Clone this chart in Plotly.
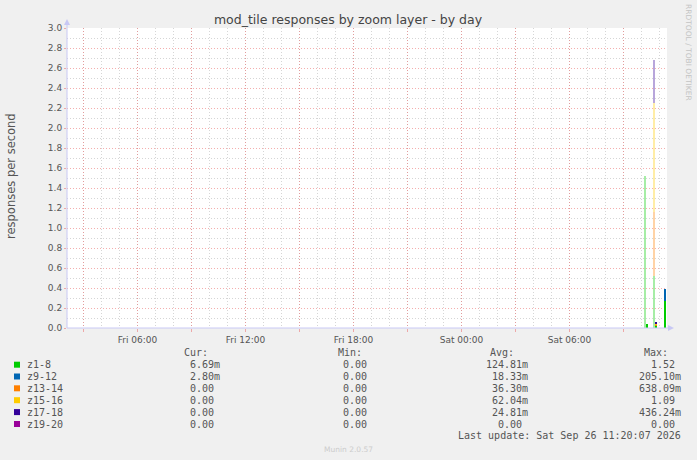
import plotly.graph_objects as go

# ---------------- data ----------------
sample_times = ["2026-09-26 10:12:30", "2026-09-26 10:17:30", "2026-09-26 10:42:30",
                "2026-09-26 10:47:30", "2026-09-26 11:17:30"]
z1_8 = [1.52, 0.04, 0.52, 0.02, 0.27]
z9_12 = [0.0, 0.0, 0.0, 0.0, 0.12]
z13_14 = [0.0, 0.0, 0.638, 0.01, 0.0]
z15_16 = [0.0, 0.0, 1.09, 0.01, 0.0]
z17_18 = [0.0, 0.0, 0.436, 0.02, 0.0]
z19_20 = [0.0, 0.0, 0.0, 0.0, 0.0]

series_names = ["z1-8", "z9-12", "z13-14", "z15-16", "z17-18", "z19-20"]
series_values = [z1_8, z9_12, z13_14, z15_16, z17_18, z19_20]
series_colors = ["#00CC00", "#0066B3", "#FF8000", "#FFCC00", "#330099", "#990099"]

cur_vals = ["6.69m", "2.80m", "0.00", "0.00", "0.00", "0.00"]
min_vals = ["0.00", "0.00", "0.00", "0.00", "0.00", "0.00"]
avg_vals = ["124.81m", "18.33m", "36.30m", "62.04m", "24.81m", "0.00"]
max_vals = ["1.52", "205.10m", "638.09m", "1.09", "436.24m", "0.00"]

tick_times = ["2026-09-25 03:00", "2026-09-25 06:00", "2026-09-25 09:00", "2026-09-25 12:00",
              "2026-09-25 15:00", "2026-09-25 18:00", "2026-09-25 21:00", "2026-09-26 00:00",
              "2026-09-26 03:00", "2026-09-26 06:00", "2026-09-26 09:00"]
tick_labels = ["", "Fri 06:00", "", "Fri 12:00", "", "Fri 18:00", "", "Sat 00:00", "", "Sat 06:00", ""]

x_range = ["2026-09-25 02:05", "2026-09-26 11:25"]
title = "mod_tile responses by zoom layer - by day"
y_title = "responses per second"
last_update = "Last update: Sat Sep 26 11:20:07 2026"

# ---------------- geometry helpers ----------------
W, H = 697, 460
L, R, T, B = 67, 667, 28, 328


def px(x):
    return (x - L) / (R - L)


def py(y):
    return (B - y) / (B - T)


MAJOR = "rgba(235,110,110,0.55)"
MINOR = "#d6d6d6"
AXIS = "#c8c8f4"
TXT = "#555555"
SANS = "DejaVu Sans"
MONO = "DejaVu Sans Mono"
DOTS = "1px,2px"

fig = go.Figure()
bar_opacity = [0.35, 1, 0.35, 1, 1]
for name, vals, col in zip(series_names, series_values, series_colors):
    fig.add_trace(go.Bar(x=sample_times, y=vals, name=name, width=300000,
                         marker=dict(color=col, line=dict(width=0), opacity=bar_opacity),
                         showlegend=False, hoverinfo="skip"))

annotations = []
shapes = []

# y axis title
annotations.append(dict(x=px(11), y=py(176), xref="paper", yref="paper", text=y_title,
                        textangle=-90, showarrow=False, font=dict(family=SANS, size=11.5, color=TXT),
                        xanchor="center", yanchor="middle"))
# right side vertical credit
annotations.append(dict(x=px(688), y=py(52), xref="paper", yref="paper", text="RRDTOOL / TOBI OETIKER",
                        textangle=90, showarrow=False, font=dict(family=SANS, size=7.5, color="#c4c4c4"),
                        xanchor="center", yanchor="middle"))
# footer
annotations.append(dict(x=px(348), y=py(449), xref="paper", yref="paper", text="Munin 2.0.57",
                        showarrow=False, font=dict(family=SANS, size=7.5, color="#cccccc"),
                        xanchor="center", yanchor="middle"))

# legend table
row_y = [364.7, 376.5, 388.3, 400.2, 412.1, 424.0]
head_y = 352.7
for htxt, hx in [("Cur:", 210), ("Min:", 364), ("Avg:", 516), ("Max:", 670)]:
    annotations.append(dict(x=px(hx), y=py(head_y), xref="paper", yref="paper", text=htxt,
                            showarrow=False, font=dict(family=MONO, size=10, color=TXT),
                            xanchor="right", yanchor="middle"))


def pad(v):
    return v if v.endswith("m") else v + "\u00a0"


for i, name in enumerate(series_names):
    yy = row_y[i]
    shapes.append(dict(type="rect", xref="paper", yref="paper",
                       x0=px(14), x1=px(20), y0=py(yy + 3), y1=py(yy - 3),
                       fillcolor=series_colors[i], line=dict(width=0)))
    annotations.append(dict(x=px(25), y=py(yy), xref="paper", yref="paper", text=name,
                            showarrow=False, font=dict(family=MONO, size=10, color=TXT),
                            xanchor="left", yanchor="middle"))
    for vals, rx in [(cur_vals, 222), (min_vals, 375), (avg_vals, 530), (max_vals, 683)]:
        annotations.append(dict(x=px(rx), y=py(yy), xref="paper", yref="paper", text=pad(vals[i]),
                                showarrow=False, font=dict(family=MONO, size=10, color=TXT),
                                xanchor="right", yanchor="middle"))
annotations.append(dict(x=px(683), y=py(436), xref="paper", yref="paper", text=last_update,
                        showarrow=False, font=dict(family=MONO, size=10, color=TXT),
                        xanchor="right", yanchor="middle"))

# axis lines with arrows
shapes.append(dict(type="line", xref="paper", yref="paper", x0=px(67), x1=px(67), y0=py(328), y1=py(23),
                   line=dict(color=AXIS, width=1)))
shapes.append(dict(type="line", xref="paper", yref="paper", x0=px(67), x1=px(670), y0=py(328), y1=py(328),
                   line=dict(color=AXIS, width=1)))
shapes.append(dict(type="path", xref="paper", yref="paper",
                   path=f"M {px(67)} {py(19)} L {px(64)} {py(25)} L {px(70)} {py(25)} Z",
                   fillcolor=AXIS, line=dict(width=0)))
shapes.append(dict(type="path", xref="paper", yref="paper",
                   path=f"M {px(674)} {py(328)} L {px(668)} {py(325)} L {px(668)} {py(331)} Z",
                   fillcolor=AXIS, line=dict(width=0)))

fig.update_layout(
    width=W, height=H, autosize=False,
    margin=dict(l=L, r=W - R, t=T, b=H - B, pad=0),
    paper_bgcolor="#F0F0F0", plot_bgcolor="#FFFFFF",
    barmode="stack", bargap=0,
    title=dict(text=title, x=348 / W, y=1 - 20 / H, xref="container", yref="container",
               xanchor="center", yanchor="middle", font=dict(family=SANS, size=12.5, color="#444444")),
    xaxis=dict(type="date", range=x_range, tickvals=tick_times, ticktext=tick_labels,
               ticks="outside", ticklen=3, tickcolor=MAJOR, tickwidth=1,
               showgrid=True, gridcolor=MAJOR, griddash=DOTS, gridwidth=1,
               minor=dict(dtick=3600000, tick0="2026-09-25 00:00", showgrid=True,
                          gridcolor=MINOR, griddash=DOTS, gridwidth=1),
               showline=False, zeroline=False,
               tickfont=dict(family=SANS, size=9, color=TXT), fixedrange=True),
    yaxis=dict(range=[0, 3.0], tick0=0, dtick=0.2, tickformat=".1f",
               ticks="outside", ticklen=2, tickcolor=MAJOR, tickwidth=1,
               showgrid=True, gridcolor=MAJOR, griddash=DOTS, gridwidth=1,
               minor=dict(dtick=0.1, tick0=0, showgrid=True, gridcolor=MINOR, griddash=DOTS, gridwidth=1),
               showline=False, zeroline=False,
               tickfont=dict(family=SANS, size=9, color=TXT), fixedrange=True),
    annotations=annotations, shapes=shapes,
)

fig.write_html("out.html", config={"displayModeBar": False},
               post_script="document.body.style.margin='0';document.body.style.background='#F0F0F0';")
